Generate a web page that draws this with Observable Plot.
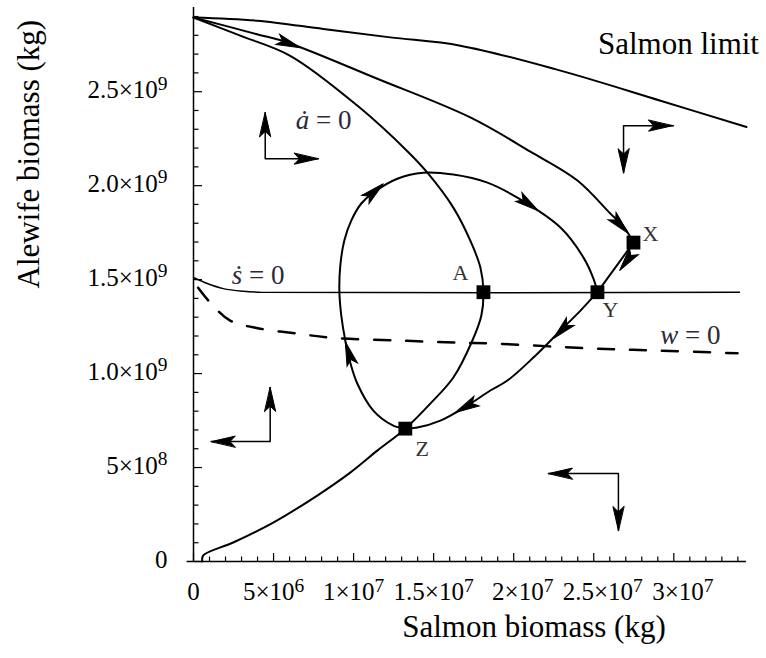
<!DOCTYPE html>
<html><head><meta charset="utf-8">
<script src="https://cdn.jsdelivr.net/npm/d3@7"></script>
<script src="https://cdn.jsdelivr.net/npm/@observablehq/plot@0.6"></script>
<style>
body{margin:0;background:#fff}
#chart svg text{font-family:"Liberation Serif",serif}
</style>
</head><body><div id="chart"></div>
<script>
// Units: salmon biomass in 10^6 kg, alewife biomass in 10^9 kg
const salmonLimit = [[0,2.895],[3.96,2.878],[8.11,2.834],[12.29,2.789],[16.67,2.745],[22.92,2.612],[29.17,2.452],[34.54,2.312]];
const upperTrajectory = [[0,2.895],[3.96,2.806],[5.86,2.762],[11.48,2.569],[17.29,2.363],[21.04,2.181],[23.98,2.027],[26.04,1.851],[26.86,1.782],[27.48,1.697]];
const aNullcline = [[0,2.895],[2.92,2.798],[6.04,2.691],[10.23,2.426],[13.42,2.178],[14.61,2.069],[16.23,1.883],[17.29,1.707],[17.92,1.564],[18.11,1.433],[17.98,1.309],[17.42,1.176],[16.23,0.979],[14.79,0.840],[13.23,0.707],[11.48,0.590],[9.79,0.473],[7.73,0.351],[4.98,0.207],[2.48,0.101],[0.61,0.032],[0.55,0]];
const sNullcline = [[0,1.511],[0.86,1.479],[1.86,1.452],[3.11,1.438],[4.17,1.433],[34.1,1.433]];
const wNullcline = [[0.29,1.457],[1.04,1.378],[2.29,1.282],[4.17,1.239],[6.48,1.213],[8.54,1.191],[12.73,1.176],[16.48,1.165],[18.73,1.160],[24.98,1.133],[29.17,1.122],[33.98,1.108]];
const loopUpper = [[13.23,0.707],[12.48,0.723],[11.23,0.803],[10.23,0.947],[9.79,1.059],[9.48,1.176],[9.23,1.309],[9.11,1.441],[9.17,1.575],[9.42,1.708],[9.86,1.815],[10.48,1.905],[11.23,1.963],[12.73,2.037],[14.36,2.069],[16.23,2.059],[18.36,2.016],[20.23,1.936],[22.92,1.777],[24.36,1.617],[24.98,1.505],[25.23,1.433]];
const loopLower = [[25.23,1.433],[24.17,1.335],[22.92,1.229],[21.23,1.085],[19.61,0.963],[18.54,0.910],[17.11,0.830],[15.42,0.750],[13.98,0.713],[13.23,0.707]];
const xToY = [[27.48,1.697],[25.23,1.433]];

// arrowheads: [tailSalmon, tailAlewife, tipSalmon, tipAlewife]
const curveArrows = [[4.98,2.787,6.67,2.734],[26.23,1.830,27.17,1.745],[10.86,1.936,11.86,2.011],[20.29,1.941,21.54,1.866],[27.54,1.654,26.61,1.548],[23.54,1.277,22.48,1.186],[17.73,0.856,16.36,0.793],[9.92,1.048,9.48,1.170]];

// direction indicators (L-shaped): arm tip, corner, arm tip
const dirGroups = ["TL","TL","TL","TR","TR","TR","BL","BL","BL","BR","BR","BR"];
const dirSalmon = [4.48,4.48,7.79, 29.98,26.86,26.86, 4.79,4.79,1.11, 22.17,26.54,26.54];
const dirAlewife = [2.388,2.143,2.143, 2.319,2.319,2.069, 0.926,0.638,0.638, 0.468,0.468,0.165];
const dirArrows = [[4.48,2.239,4.48,2.388],[6.67,2.143,7.79,2.143],[28.54,2.319,29.92,2.319],[26.86,2.186,26.86,2.069],[4.79,0.803,4.79,0.926],[2.61,0.638,1.11,0.638],[23.54,0.468,22.17,0.468],[26.54,0.298,26.54,0.165]];

const eqNames = ["A","X","Y","Z"];
const eqSalmon = [18.11,27.48,25.23,13.23];
const eqAlewife = [1.433,1.697,1.433,0.707];
const eqLabelSalmon = [16.67,28.54,26.04,14.29];
const eqLabelAlewife = [1.537,1.745,1.340,0.601];

const nullNames = ["ȧ = 0","ṡ = 0","w = 0"];
const nullSalmon = [8.13,4.04,31.04];
const nullAlewife = [2.350,1.525,1.206];

const xTickValues = [0,5,10,15,20,25,30];
const xTickLabels = ["0","5×10^6","1×10^7","1.5×10^7","2×10^7","2.5×10^7","3×10^7"];
const yTickValues = [0,0.5,1,1.5,2,2.5];
const yTickLabels = ["0","5×10^8","1.0×10^9","1.5×10^9","2.0×10^9","2.5×10^9"];
const xMinor = d3.range(1,35).filter(v => v % 5 !== 0);
const yMinor = d3.range(1,30).filter(v => v % 5 !== 0).map(v => v/10);

const W = 766, H = 658, mL = 193, mR = 20, mT = 7, mB = 97;
const xDom = [0, 34.54], yDom = [0, 2.948];
const kx = (W - mL - mR) / (xDom[1] - xDom[0]);
const ky = (H - mT - mB) / (yDom[1] - yDom[0]);
const rot = d => Math.atan2((d[2]-d[0])*kx, (d[3]-d[1])*ky) * 180 / Math.PI;

const headShape = {
  draw(context, l, r) {
    context.moveTo(0, -l);
    context.lineTo(r, 0);
    context.lineTo(0, -l * 0.22);
    context.lineTo(-r, 0);
    context.closePath();
  }
};

const serif = "Liberation Serif";
const fx = v => xTickLabels[xTickValues.indexOf(v)];
const fy = v => yTickLabels[yTickValues.indexOf(v)];
const line = (data, extra = {}) => Plot.line(data, {x: d => d[0], y: d => d[1], curve: "catmull-rom", stroke: "black", strokeWidth: 2, ...extra});

const chart = Plot.plot({
  width: W, height: H,
  marginLeft: mL, marginRight: mR, marginTop: mT, marginBottom: mB,
  x: {domain: xDom, axis: null},
  y: {domain: yDom, axis: null},
  style: {fontFamily: serif, background: "white", color: "black", overflow: "visible"},
  marks: [
    Plot.ruleX([0], {stroke: "black", strokeWidth: 1.5}),
    Plot.ruleY([0], {x1: -0.4, x2: xDom[1], stroke: "black", strokeWidth: 1.5}),
    Plot.axisX(xTickValues, {tickSize: -8, tickFormat: () => "", label: null, strokeWidth: 1.2}),
    Plot.axisX(xMinor, {tickSize: -4.5, tickFormat: () => "", label: null, strokeWidth: 1.2}),
    Plot.axisY(yTickValues, {tickSize: -9, tickFormat: () => "", label: null, strokeWidth: 1.2}),
    Plot.axisY(yMinor, {tickSize: -5.5, tickFormat: () => "", label: null, strokeWidth: 1.2}),
    Plot.axisX([0,5,10,15], {tickSize: 0, tickPadding: 21, tickFormat: fx, label: null, fontSize: 25, fill: "black"}),
    Plot.axisX([20,25,30], {tickSize: 0, tickPadding: 21, tickFormat: fx, label: null, fontSize: 25, fill: "black", dx: 9}),
    Plot.axisY(yTickValues, {tickSize: 0, tickPadding: 26, tickFormat: fy, label: null, fontSize: 25, fill: "black", dy: -2}),
    Plot.text(["Salmon biomass (kg)"], {frameAnchor: "bottom", dx: 64, dy: 75, fontSize: 31, fill: "black"}),
    Plot.text(["Alewife biomass (kg)"], {frameAnchor: "left", rotate: -90, dx: -164, dy: 4, fontSize: 31, fill: "black"}),
    line(salmonLimit),
    line(upperTrajectory),
    line(aNullcline),
    line(sNullcline, {strokeWidth: 1.5}),
    line(wNullcline, {strokeWidth: 2.5, strokeDasharray: "16,16"}),
    line(loopUpper),
    line(loopLower),
    line(xToY, {curve: "linear"}),
    Plot.line(dirGroups.map((g, i) => i), {x: i => dirSalmon[i], y: i => dirAlewife[i], z: i => dirGroups[i], stroke: "black", strokeWidth: 1.5}),
    Plot.vector(curveArrows.concat(dirArrows), {x: d => d[2], y: d => d[3], rotate: rot, length: 24, r: 5.5, anchor: "end", shape: headShape, fill: "black", stroke: "black", strokeWidth: 1, strokeLinejoin: "miter"}),
    Plot.dot(eqNames.map((n, i) => i), {x: i => eqSalmon[i], y: i => eqAlewife[i], symbol: "square", r: 7.8, fill: "black", stroke: null}),
    Plot.text(eqNames.map((n, i) => i), {x: i => eqLabelSalmon[i], y: i => eqLabelAlewife[i], text: i => eqNames[i], fontSize: 22, fill: "#333"}),
    Plot.text(nullNames.map((n, i) => i), {x: i => nullSalmon[i], y: i => nullAlewife[i], text: i => nullNames[i], fontSize: 27, fill: "#2a2a38"}),
    Plot.text(["Salmon limit"], {x: 30.29, y: 2.755, fontSize: 31, fill: "black"})
  ]
});

// superscripts and italic variables as real text
d3.select(chart).selectAll("text").each(function() {
  const t = this.textContent;
  const sel = d3.select(this);
  sel.style("font-family", "'Liberation Serif', serif");
  if (t.includes("^")) {
    const [base, sup] = t.split("^");
    sel.text(null);
    sel.append("tspan").text(base);
    sel.append("tspan").attr("dy", "-0.42em").attr("font-size", "78%").text(sup);
  } else if (/^[ȧṡw] = 0$/.test(t)) {
    sel.text(null);
    sel.append("tspan").attr("font-style", "italic").text(t[0]);
    sel.append("tspan").text(t.slice(1));
  }
});
document.getElementById("chart").appendChild(chart);
</script>
</body></html>
